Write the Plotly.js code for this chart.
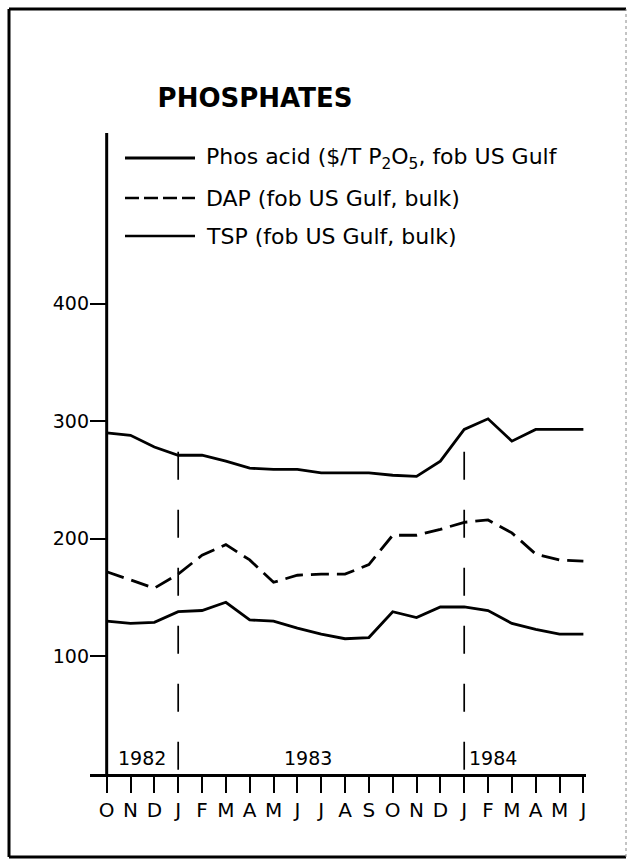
<!DOCTYPE html>
<html>
<head>
<meta charset="utf-8">
<script src="https://cdn.plot.ly/plotly-3.0.1.min.js"></script>
<style>
  html, body { margin: 0; padding: 0; background: #ffffff; }
  #chart { width: 629px; height: 860px; }
</style>
</head>
<body>
<div id="chart"></div>
<script>
// ---- Data ----
const monthLabels = ["O","N","D","J","F","M","A","M","J","J","A","S","O","N","D","J","F","M","A","M","J"];
const monthIndex  = [0,1,2,3,4,5,6,7,8,9,10,11,12,13,14,15,16,17,18,19,20];
// Oct 1982 .. Jun 1984, $/tonne
const phosAcid = [290,288,278,271,271,266,260,259,259,256,256,256,254,253,266,293,302,283,293,293,293];
const dap      = [172,165,158,170,186,195,182,163,169,170,170,178,203,203,208,214,216,205,187,182,181];
const tsp      = [130,128,129,138,139,146,131,130,124,119,115,116,138,133,142,142,139,128,123,119,119];
const seriesNames = [
  "Phos acid ($/T P<sub>2</sub>O<sub>5</sub>, fob US Gulf",
  "DAP (fob US Gulf, bulk)",
  "TSP (fob US Gulf, bulk)"
];
const yearLabels   = ["1982","1983","1984"];
const yearLabelPos = [1.48, 8.45, 16.2];
const dividerMonths = [3, 15];
const yTicks = [100,200,300,400];

// ---- Layout geometry ----
const W = 629, H = 860;
const M = {l: 90, r: 43, t: 133, b: 86};
const PW = W - M.l - M.r, PH = H - M.t - M.b;
const px2paperX = x => (x - M.l) / PW;
const px2paperY = y => (H - M.b - y) / PH;
const FONT = "DejaVu Sans, Verdana, sans-serif";
const INK = "#000000";

const seriesY = [phosAcid, dap, tsp];
const seriesDash = ["solid", "18px,8px", "solid"];
const legendDash = ["solid", "14px,5px", "solid"];

const traces = seriesY.map((ys, i) => ({
  type: "scatter", mode: "lines",
  x: monthIndex, y: ys, name: seriesNames[i],
  line: {color: INK, width: 2.8, dash: seriesDash[i]},
  showlegend: false, hoverinfo: "skip"
}));

const shapes = [];
const annotations = [];

// y-axis line (drawn at the October 1982 position)
shapes.push({type: "line", xref: "x", yref: "y", x0: 0, x1: 0, y0: 0, y1: 545,
  line: {color: INK, width: 3}});

// year divider dashed lines
dividerMonths.forEach(m => {
  shapes.push({type: "line", xref: "x", yref: "y", x0: m, x1: m, y0: 274, y1: 0,
    line: {color: INK, width: 1.7, dash: "28px,30px"}});
});

// legend samples + text
const legendRowsPx = [158, 198, 236];
seriesNames.forEach((name, i) => {
  shapes.push({type: "line", xref: "paper", yref: "paper",
    x0: px2paperX(125), x1: px2paperX(195),
    y0: px2paperY(legendRowsPx[i]), y1: px2paperY(legendRowsPx[i]),
    line: {color: INK, width: i === 0 ? 3 : 2.6, dash: legendDash[i]}});
  annotations.push({xref: "paper", yref: "paper", x: px2paperX(204), y: px2paperY(legendRowsPx[i]),
    xanchor: "left", yanchor: "middle", showarrow: false, text: name,
    font: {family: FONT, size: 22, color: INK}});
});

// year labels
yearLabels.forEach((t, i) => {
  annotations.push({xref: "x", yref: "y", x: yearLabelPos[i], y: 14,
    xanchor: "center", yanchor: "middle", showarrow: false, text: t,
    font: {family: FONT, size: 19, color: INK}});
});

// y-axis unit label
annotations.push({xref: "x", yref: "y", x: -0.72, y: 467, textangle: -90,
  xanchor: "center", yanchor: "middle", showarrow: false, text: "($/tonne)",
  font: {family: FONT, size: 17, color: INK}});

// outer frame
const fx0 = px2paperX(9), fx1 = px2paperX(626), fy0 = px2paperY(857), fy1 = px2paperY(9);
shapes.push({type: "line", xref: "paper", yref: "paper", x0: fx0, x1: fx0, y0: fy0, y1: fy1, line: {color: INK, width: 3}});
shapes.push({type: "line", xref: "paper", yref: "paper", x0: fx0, x1: fx1, y0: fy1, y1: fy1, line: {color: INK, width: 3}});
shapes.push({type: "line", xref: "paper", yref: "paper", x0: fx0, x1: fx1, y0: fy0, y1: fy0, line: {color: INK, width: 3}});
shapes.push({type: "line", xref: "paper", yref: "paper", x0: fx1, x1: fx1, y0: fy0, y1: fy1, line: {color: "#888888", width: 1, dash: "dot"}});

const layout = {
  width: W, height: H,
  margin: M,
  paper_bgcolor: "#ffffff", plot_bgcolor: "#ffffff",
  showlegend: false,
  title: {
    text: "<b>PHOSPHATES</b>",
    font: {family: FONT, size: 26, color: INK},
    xref: "container", yref: "container",
    x: 255 / W, y: 1 - 97.5 / H, xanchor: "center", yanchor: "middle"
  },
  xaxis: {
    range: [-0.70, 20.11],
    tickvals: monthIndex, ticktext: monthLabels,
    ticks: "outside", ticklen: 16, tickwidth: 2, tickcolor: INK,
    showline: true, linecolor: INK, linewidth: 2.5,
    showgrid: false, zeroline: false,
    tickfont: {family: FONT, size: 20, color: INK},
    fixedrange: true
  },
  yaxis: {
    range: [0, 545],
    tickvals: yTicks, ticktext: yTicks.map(String),
    ticks: "inside", ticklen: 16, tickwidth: 2, tickcolor: INK,
    showline: false, showgrid: false, zeroline: false,
    tickfont: {family: FONT, size: 19, color: INK},
    fixedrange: true
  },
  shapes: shapes,
  annotations: annotations
};

Plotly.newPlot("chart", traces, layout, {staticPlot: true, displayModeBar: false});
</script>
</body>
</html>
